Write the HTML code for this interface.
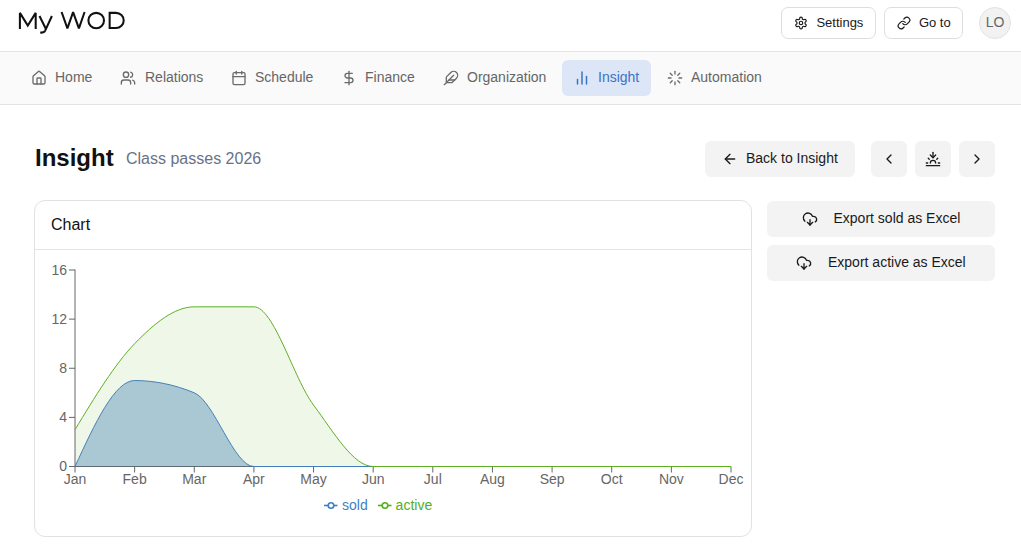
<!DOCTYPE html>
<html><head><meta charset="utf-8">
<style>
*{box-sizing:border-box;margin:0;padding:0}
html,body{width:1021px;height:545px;overflow:hidden;background:#fff;font-family:"Liberation Sans",sans-serif;color:#1a1a1a}
.top{position:absolute;left:0;top:0;width:1021px;height:52px;border-bottom:1px solid #e3e3e3;background:#fff}
.logo{position:absolute;left:16.6px;top:7.5px;font-size:23px;line-height:normal;color:#111;transform:scaleX(1.165);transform-origin:0 0;white-space:nowrap;-webkit-text-stroke:0.5px #fff}
.tbtn{position:absolute;top:7px;height:32px;border:1px solid #dedede;border-radius:7px;background:#fff;font-size:13px;color:#1a1a1a}
.tbtn svg{position:absolute;left:12px;top:8px}
.tbtn span{position:absolute;top:7px;white-space:nowrap}
.avatar{position:absolute;left:979px;top:7px;width:32px;height:32px;border-radius:50%;background:#f2f2f2;border:1px solid #e2e2e2;color:#666;font-size:14px;text-align:center;line-height:28px}
.nav{position:absolute;left:0;top:52px;width:1021px;height:53px;background:#fafafa;border-bottom:1px solid #e3e3e3}
.ni{position:absolute;top:8px;height:36px;border-radius:6px;font-size:14px;color:#666}
.ni svg{position:absolute;top:10px;left:11px}
.ni span{position:absolute;top:9px;white-space:nowrap}
.ni.act{background:#dde6f7;color:#3b73c6}
h1{position:absolute;left:35px;top:144px;font-size:24px;line-height:normal;font-weight:bold;color:#111}
.sub{position:absolute;left:126px;top:150px;font-size:16px;color:#687287}
.gbtn{position:absolute;height:36px;border-radius:6px;background:#f3f3f3;font-size:14px;color:#1a1a1a}
.gbtn svg{position:absolute}
.gbtn span{position:absolute;white-space:nowrap}
.card{position:absolute;left:34px;top:200px;width:718px;height:337px;border:1px solid #e2e2e2;border-radius:11px;background:#fff}
.card .hd{position:absolute;left:0;top:0;width:716px;height:49px;border-bottom:1px solid #e5e5e5}
.card .hd span{position:absolute;left:16px;top:15px;font-size:16px;color:#111}
svg text{font-family:"Liberation Sans",sans-serif}
</style></head><body>
<div class="top">
  <svg style="position:absolute;left:0;top:0" width="140" height="45" viewBox="0 0 140 45" fill="none" stroke="#111" stroke-width="2.05" stroke-linejoin="miter" stroke-miterlimit="3">
    <path d="M19.9,28.9V12.9L27.8,25.6L35.7,12.9V28.9"/>
    <path d="M39.5,16L45.8,28.7"/>
    <path d="M51.9,16L45.2,30.6Q44,32.9 40.2,32.6"/>
    <path stroke-linejoin="bevel" d="M61.6,12L67.4,28.4L73.1,12.2L78.9,28.4L84.6,12"/>
    <ellipse cx="96.2" cy="20.5" rx="7.8" ry="7.65"/>
    <path d="M109.65,12.85H116A7.7 7.55 0 0 1 116,27.95H109.65Z"/>
  </svg>
  <div class="tbtn" style="left:781px;width:95px">
    <svg style="left:12px;top:8px" width="14" height="14" viewBox="0 0 24 24" fill="none" stroke="#1a1a1a" stroke-width="2" stroke-linecap="round" stroke-linejoin="round"><path d="M12.22 2h-.44a2 2 0 0 0-2 2v.18a2 2 0 0 1-1 1.730l-.43.25a2 2 0 0 1-2 0l-.15-.08a2 2 0 0 0-2.73.73l-.22.38a2 2 0 0 0 .73 2.73l.15.1a2 2 0 0 1 1 1.72v.51a2 2 0 0 1-1 1.74l-.15.09a2 2 0 0 0-.73 2.73l.22.38a2 2 0 0 0 2.73.73l.15-.08a2 2 0 0 1 2 0l.43.25a2 2 0 0 1 1 1.73V20a2 2 0 0 0 2 2h.44a2 2 0 0 0 2-2v-.18a2 2 0 0 1 1-1.73l.43-.25a2 2 0 0 1 2 0l.15.08a2 2 0 0 0 2.73-.73l.22-.39a2 2 0 0 0-.73-2.73l-.15-.08a2 2 0 0 1-1-1.74v-.5a2 2 0 0 1 1-1.74l.15-.09a2 2 0 0 0 .73-2.73l-.22-.38a2 2 0 0 0-2.73-.73l-.15.08a2 2 0 0 1-2 0l-.43-.25a2 2 0 0 1-1-1.73V4a2 2 0 0 0-2-2z"/><circle cx="12" cy="12" r="3"/></svg>
    <span style="left:34.4px">Settings</span>
  </div>
  <div class="tbtn" style="left:884px;width:79px">
    <svg style="left:11.6px;top:8px" width="14" height="14" viewBox="0 0 24 24" fill="none" stroke="#1a1a1a" stroke-width="2" stroke-linecap="round" stroke-linejoin="round"><path d="M10 13a5 5 0 0 0 7.54.54l3-3a5 5 0 0 0-7.07-7.07l-1.72 1.71"/><path d="M14 11a5 5 0 0 0-7.54-.54l-3 3a5 5 0 0 0 7.07 7.07l1.71-1.71"/></svg>
    <span style="left:33.9px">Go to</span>
  </div>
  <div class="avatar">LO</div>
</div>
<div class="nav">
  <div class="ni" style="left:20px;width:84px">
    <svg width="16" height="16" viewBox="0 0 24 24" fill="none" stroke="#6b6b6b" stroke-width="2" stroke-linecap="round" stroke-linejoin="round"><path d="M15 21v-8a1 1 0 0 0-1-1h-4a1 1 0 0 0-1 1v8"/><path d="M3 10a2 2 0 0 1 .709-1.528l7-5.999a2 2 0 0 1 2.582 0l7 5.999A2 2 0 0 1 21 10v9a2 2 0 0 1-2 2H5a2 2 0 0 1-2-2z"/></svg>
    <span style="left:35px">Home</span>
  </div>
  <div class="ni" style="left:109px;width:106px">
    <svg width="16" height="16" viewBox="0 0 24 24" fill="none" stroke="#6b6b6b" stroke-width="2" stroke-linecap="round" stroke-linejoin="round"><path d="M16 21v-2a4 4 0 0 0-4-4H6a4 4 0 0 0-4 4v2"/><path d="M16 3.128a4 4 0 0 1 0 7.744"/><path d="M22 21v-2a4 4 0 0 0-3-3.87"/><circle cx="9" cy="7" r="4"/></svg>
    <span style="left:36px">Relations</span>
  </div>
  <div class="ni" style="left:220px;width:104px">
    <svg width="16" height="16" viewBox="0 0 24 24" fill="none" stroke="#6b6b6b" stroke-width="2" stroke-linecap="round" stroke-linejoin="round"><path d="M8 2v4"/><path d="M16 2v4"/><rect width="18" height="18" x="3" y="4" rx="2"/><path d="M3 10h18"/></svg>
    <span style="left:35px">Schedule</span>
  </div>
  <div class="ni" style="left:330px;width:96px">
    <svg width="16" height="16" viewBox="0 0 24 24" fill="none" stroke="#6b6b6b" stroke-width="2" stroke-linecap="round" stroke-linejoin="round"><line x1="12" x2="12" y1="2" y2="22"/><path d="M17 5H9.5a3.5 3.5 0 0 0 0 7h5a3.5 3.5 0 0 1 0 7H6"/></svg>
    <span style="left:35px">Finance</span>
  </div>
  <div class="ni" style="left:431px;width:126px">
    <svg style="left:12px" width="16" height="16" viewBox="0 0 24 24" fill="none" stroke="#6b6b6b" stroke-width="2" stroke-linecap="round" stroke-linejoin="round"><path d="M12.67 19a2 2 0 0 0 1.416-.588l6.154-6.172a6 6 0 0 0-8.49-8.490L5.586 9.914A2 2 0 0 0 5 11.328V18a1 1 0 0 0 1 1z"/><path d="M16 8 2 22"/><path d="M17.5 15H9"/></svg>
    <span style="left:36px">Organization</span>
  </div>
  <div class="ni act" style="left:562px;width:89px">
    <svg style="left:11px;top:8.8px" width="18" height="18" viewBox="0 0 24 24" fill="none" stroke="#3b73c6" stroke-width="2" stroke-linecap="round" stroke-linejoin="round"><line x1="18" x2="18" y1="20" y2="10"/><line x1="12" x2="12" y1="20" y2="4"/><line x1="6" x2="6" y1="20" y2="14"/></svg>
    <span style="left:36px">Insight</span>
  </div>
  <div class="ni" style="left:655px;width:118px">
    <svg style="left:12px" width="16" height="16" viewBox="0 0 24 24" fill="none" stroke="#6b6b6b" stroke-width="2" stroke-linecap="round" stroke-linejoin="round"><path d="M12 2v4"/><path d="m16.2 7.8 2.9-2.9"/><path d="M18 12h4"/><path d="m16.2 16.2 2.9 2.9"/><path d="M12 18v4"/><path d="m4.9 19.1 2.9-2.9"/><path d="M2 12h4"/><path d="m4.9 4.9 2.9 2.9"/></svg>
    <span style="left:36px">Automation</span>
  </div>
</div>

<h1>Insight</h1>
<div class="sub">Class passes 2026</div>

<div class="gbtn" style="left:705px;top:141px;width:150px">
  <svg style="left:16.5px;top:10px" width="16" height="16" viewBox="0 0 24 24" fill="none" stroke="#1a1a1a" stroke-width="2" stroke-linecap="round" stroke-linejoin="round"><path d="m12 19-7-7 7-7"/><path d="M19 12H5"/></svg>
  <span style="left:41px;top:9.2px">Back to Insight</span>
</div>
<div class="gbtn" style="left:871px;top:141px;width:36px">
  <svg style="left:10px;top:10px" width="16" height="16" viewBox="0 0 24 24" fill="none" stroke="#1a1a1a" stroke-width="2" stroke-linecap="round" stroke-linejoin="round"><path d="m15 18-6-6 6-6"/></svg>
</div>
<div class="gbtn" style="left:915px;top:141px;width:36px">
  <svg style="left:10px;top:10px" width="16" height="16" viewBox="0 0 24 24" fill="none" stroke="#1a1a1a" stroke-width="2" stroke-linecap="round" stroke-linejoin="round"><path d="M12 10V2"/><path d="m4.93 10.93 1.41 1.41"/><path d="M2 18h2"/><path d="M20 18h2"/><path d="m19.07 10.93-1.41 1.41"/><path d="M22 22H2"/><path d="m16 6-4 4-4-4"/><path d="M16 18a4 4 0 0 0-8 0"/></svg>
</div>
<div class="gbtn" style="left:959px;top:141px;width:36px">
  <svg style="left:10px;top:10px" width="16" height="16" viewBox="0 0 24 24" fill="none" stroke="#1a1a1a" stroke-width="2" stroke-linecap="round" stroke-linejoin="round"><path d="m9 18 6-6-6-6"/></svg>
</div>

<div class="gbtn" style="left:767px;top:201px;width:228px">
  <svg style="left:34.5px;top:10px" width="16" height="16" viewBox="0 0 24 24" fill="none" stroke="#1a1a1a" stroke-width="2" stroke-linecap="round" stroke-linejoin="round"><path d="M12 13v8l-4-4"/><path d="m12 21 4-4"/><path d="M4.393 15.269A7 7 0 1 1 15.71 8h1.79a4.5 4.5 0 0 1 2.436 8.284"/></svg>
  <span style="left:66.5px;top:9px">Export sold as Excel</span>
</div>
<div class="gbtn" style="left:767px;top:245px;width:228px">
  <svg style="left:28.5px;top:10px" width="16" height="16" viewBox="0 0 24 24" fill="none" stroke="#1a1a1a" stroke-width="2" stroke-linecap="round" stroke-linejoin="round"><path d="M12 13v8l-4-4"/><path d="m12 21 4-4"/><path d="M4.393 15.269A7 7 0 1 1 15.71 8h1.79a4.5 4.5 0 0 1 2.436 8.284"/></svg>
  <span style="left:61px;top:9px">Export active as Excel</span>
</div>

<div class="card"><div class="hd"><span>Chart</span></div></div>

<svg style="position:absolute;left:0;top:0" width="1021" height="545" viewBox="0 0 1021 545">
  <g stroke="#666" stroke-width="1" fill="none">
    <line x1="75.00" y1="269.5" x2="75.00" y2="466.50"/>
    <line x1="75.00" y1="466.50" x2="731" y2="466.50"/>
    <line x1="75.00" y1="466.50" x2="75.00" y2="472.50"/><line x1="134.64" y1="466.50" x2="134.64" y2="472.50"/><line x1="194.27" y1="466.50" x2="194.27" y2="472.50"/><line x1="253.91" y1="466.50" x2="253.91" y2="472.50"/><line x1="313.55" y1="466.50" x2="313.55" y2="472.50"/><line x1="373.18" y1="466.50" x2="373.18" y2="472.50"/><line x1="432.82" y1="466.50" x2="432.82" y2="472.50"/><line x1="492.45" y1="466.50" x2="492.45" y2="472.50"/><line x1="552.09" y1="466.50" x2="552.09" y2="472.50"/><line x1="611.73" y1="466.50" x2="611.73" y2="472.50"/><line x1="671.36" y1="466.50" x2="671.36" y2="472.50"/><line x1="731.00" y1="466.50" x2="731.00" y2="472.50"/><line x1="69.00" y1="466.50" x2="75.00" y2="466.50"/><line x1="69.00" y1="417.38" x2="75.00" y2="417.38"/><line x1="69.00" y1="368.25" x2="75.00" y2="368.25"/><line x1="69.00" y1="319.12" x2="75.00" y2="319.12"/><line x1="69.00" y1="270.00" x2="75.00" y2="270.00"/>
  </g>
  <g font-size="14" fill="#666"><text x="75.00" y="484.00" text-anchor="middle">Jan</text><text x="134.64" y="484.00" text-anchor="middle">Feb</text><text x="194.27" y="484.00" text-anchor="middle">Mar</text><text x="253.91" y="484.00" text-anchor="middle">Apr</text><text x="313.55" y="484.00" text-anchor="middle">May</text><text x="373.18" y="484.00" text-anchor="middle">Jun</text><text x="432.82" y="484.00" text-anchor="middle">Jul</text><text x="492.45" y="484.00" text-anchor="middle">Aug</text><text x="552.09" y="484.00" text-anchor="middle">Sep</text><text x="611.73" y="484.00" text-anchor="middle">Oct</text><text x="671.36" y="484.00" text-anchor="middle">Nov</text><text x="731.00" y="484.00" text-anchor="middle">Dec</text><text x="67.00" y="471.10" text-anchor="end">0</text><text x="67.00" y="421.98" text-anchor="end">4</text><text x="67.00" y="372.85" text-anchor="end">8</text><text x="67.00" y="323.73" text-anchor="end">12</text><text x="67.00" y="274.60" text-anchor="end">16</text></g>
  <path d="M75.00,466.50C94.88,423.52,114.76,380.53,134.64,380.53C154.52,380.53,174.39,384.62,194.27,392.81C214.15,401.00,234.03,466.50,253.91,466.50C273.79,466.50,293.67,466.50,313.55,466.50C333.42,466.50,353.30,466.50,373.18,466.50C393.06,466.50,412.94,466.50,432.82,466.50C452.70,466.50,472.58,466.50,492.45,466.50C512.33,466.50,532.21,466.50,552.09,466.50C571.97,466.50,591.85,466.50,611.73,466.50C631.61,466.50,651.48,466.50,671.36,466.50C691.24,466.50,711.12,466.50,731.00,466.50L731.00,466.50L75.00,466.50Z" fill="#427cc5" fill-opacity="0.4" stroke="none"/>
  <path d="M75.00,466.50C94.88,423.52,114.76,380.53,134.64,380.53C154.52,380.53,174.39,384.62,194.27,392.81C214.15,401.00,234.03,466.50,253.91,466.50C273.79,466.50,293.67,466.50,313.55,466.50C333.42,466.50,353.30,466.50,373.18,466.50C393.06,466.50,412.94,466.50,432.82,466.50C452.70,466.50,472.58,466.50,492.45,466.50C512.33,466.50,532.21,466.50,552.09,466.50C571.97,466.50,591.85,466.50,611.73,466.50C631.61,466.50,651.48,466.50,671.36,466.50C691.24,466.50,711.12,466.50,731.00,466.50" fill="none" stroke="#427cc5" stroke-width="1"/>
  <path d="M75.00,429.66C94.88,396.91,114.76,364.16,134.64,343.69C154.52,323.22,174.39,306.84,194.27,306.84C214.15,306.84,234.03,306.84,253.91,306.84C273.79,306.84,293.67,378.48,313.55,405.09C333.42,431.70,353.30,466.50,373.18,466.50C393.06,466.50,412.94,466.50,432.82,466.50C452.70,466.50,472.58,466.50,492.45,466.50C512.33,466.50,532.21,466.50,552.09,466.50C571.97,466.50,591.85,466.50,611.73,466.50C631.61,466.50,651.48,466.50,671.36,466.50C691.24,466.50,711.12,466.50,731.00,466.50L731.00,466.50L75.00,466.50Z" fill="#5faf23" fill-opacity="0.1" stroke="none"/>
  <path d="M75.00,429.66C94.88,396.91,114.76,364.16,134.64,343.69C154.52,323.22,174.39,306.84,194.27,306.84C214.15,306.84,234.03,306.84,253.91,306.84C273.79,306.84,293.67,378.48,313.55,405.09C333.42,431.70,353.30,466.50,373.18,466.50C393.06,466.50,412.94,466.50,432.82,466.50C452.70,466.50,472.58,466.50,492.45,466.50C512.33,466.50,532.21,466.50,552.09,466.50C571.97,466.50,591.85,466.50,611.73,466.50C631.61,466.50,651.48,466.50,671.36,466.50C691.24,466.50,711.12,466.50,731.00,466.50" fill="none" stroke="#5faf23" stroke-width="1"/>
  <g font-size="14">
    <line x1="324" y1="505.5" x2="337.5" y2="505.5" stroke="#3f7fc4" stroke-width="1.6"/><circle cx="331" cy="505.5" r="2.8" fill="#fff" stroke="#3f7fc4" stroke-width="1.6"/>
    <text x="342" y="510" fill="#3f7fc4">sold</text>
    <line x1="378" y1="505.5" x2="391.5" y2="505.5" stroke="#52b01a" stroke-width="1.6"/><circle cx="385" cy="505.5" r="2.8" fill="#fff" stroke="#52b01a" stroke-width="1.6"/>
    <text x="395.6" y="510" fill="#52b01a">active</text>
  </g>
</svg>
</body></html>
